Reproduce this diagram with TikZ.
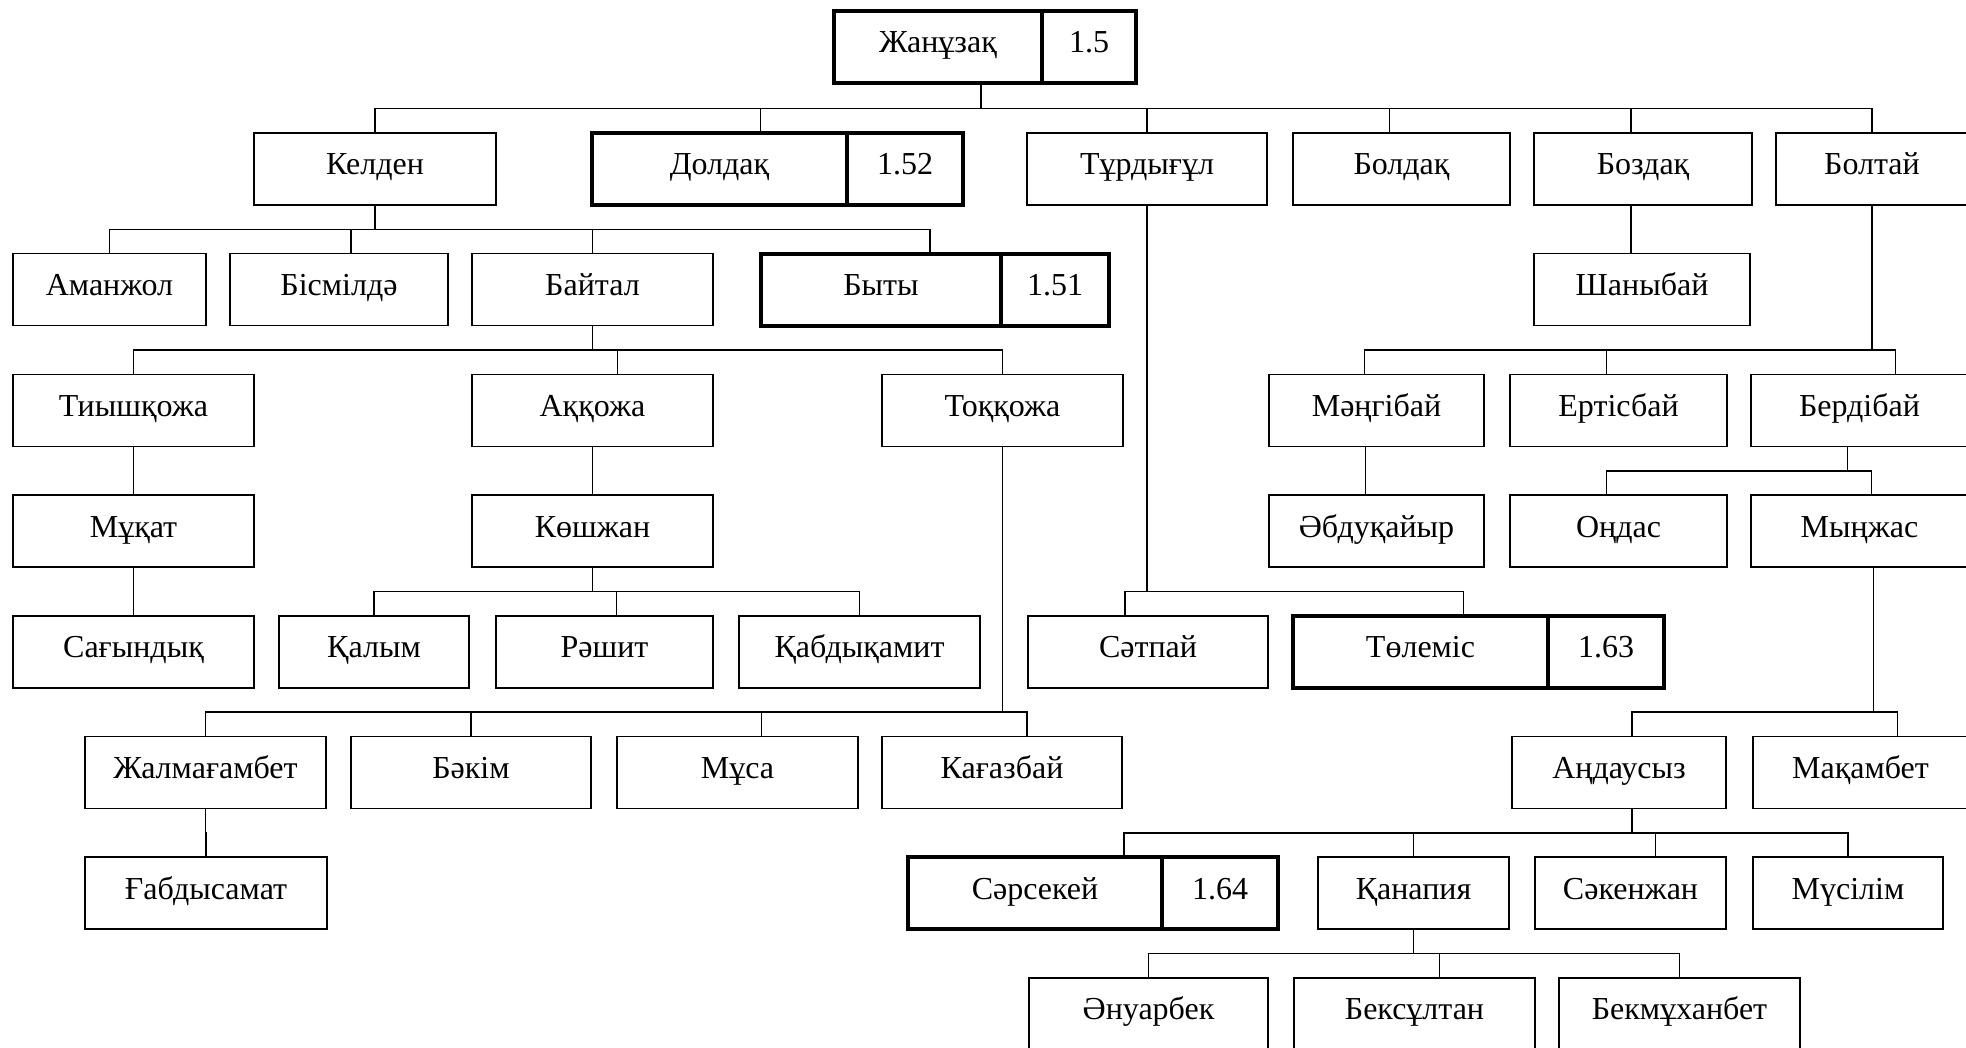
\documentclass[tikz,border=0pt]{standalone}
\usepackage{fontspec}
\setmainfont{Liberation Serif}
\usetikzlibrary{calc}
\tikzset{
  kin/.style={draw, line width=1.6pt, inner sep=0pt, outer sep=0pt, anchor=north west, minimum height=72pt,
              font=\fontsize{32}{38}\selectfont, text height=21pt, text depth=9pt},
  kin mark/.style={kin, line width=3.8pt},
  kin link/.style={line width=1.6pt},
}
\begin{document}
\begin{tikzpicture}[x=1pt, y=-1pt]
  \useasboundingbox (0,0) rectangle (1966,1048);
  \clip (0,0) rectangle (1966,1048);
  % plain boxes: name/left/right/row/text
  \foreach \nm/\xa/\xb/\r/\txt in {
      kelden/254/496/1/Келден, turdy/1027/1267/1/Тұрдығұл, boldaq/1293/1510/1/Болдақ,
      bozdaq/1534/1752/1/Боздақ, boltai/1776/1968/1/Болтай,
      amanzhol/13/206/2/Аманжол, bismil/230/448/2/Бісмілдә, baital/472/713/2/Байтал, shanybai/1534/1750/2/Шаныбай,
      tyysh/13/254/3/Тиышқожа, aqqozha/472/713/3/Аққожа, toqqozha/882/1123/3/Тоққожа,
      mengi/1269/1484/3/Мәңгібай, ertis/1510/1727/3/Ертісбай, berdi/1751/1968/3/Бердібай,
      muqat/13/254/4/Мұқат, koshzhan/472/713/4/Көшжан, abdu/1269/1484/4/Әбдуқайыр,
      ondas/1510/1727/4/Оңдас, mynzhas/1751/1968/4/Мыңжас,
      sagyn/13/254/5/Сағындық, qalym/279/469/5/Қалым, rashit/496/713/5/Рәшит, qabdy/739/980/5/Қабдықамит,
      satpai/1028/1268/5/Сәтпай,
      zhalma/85/326/6/Жалмағамбет, bakim/351/591/6/Бәкім, musa/617/858/6/Мұса, qagaz/882/1122/6/Кағазбай,
      andau/1512/1726/6/Аңдаусыз, maqam/1753/1968/6/Мақамбет,
      gabdy/85/327/7/Ғабдысамат, qanap/1318/1509/7/Қанапия, saken/1535/1726/7/Сәкенжан, musil/1753/1943/7/Мүсілім,
      anuar/1029/1268/8/Әнуарбек, beksul/1294/1535/8/Бексұлтан, bekmu/1559/1800/8/Бекмұханбет} {
     \pgfmathsetmacro{\ty}{133+(\r-1)*120.7}
     \node[kin, minimum width=\xb-\xa] (\nm) at (\xa,\ty) {\txt};
  }
  % marked boxes with their number: name/left/split/right/row/text/number
  \foreach \nm/\xa/\xm/\xb/\r/\txt/\val in {
      root/834/1042/1136/0/Жанұзақ/1.5, doldaq/592/847/963/1/Долдақ/1.52, byty/761/1001/1109/2/Быты/1.51,
      tolemis/1293/1548/1664/5/Төлеміс/1.63, sarsek/908/1162/1278/7/Сәрсекей/1.64} {
     \pgfmathsetmacro{\ty}{\r==0 ? 11 : 133+(\r-1)*120.7}
     \node[kin mark, minimum width=\xm-\xa] (\nm) at (\xa,\ty) {\txt};
     \node[kin mark, minimum width=\xb-\xm] (\nm-val) at (\xm,\ty) {\val};
  }
  % parent/offset/child/offset
  \foreach \up/\upx/\kid/\kidx in {
      root/43/kelden/0, root/43/doldaq/41, root/43/turdy/0, root/43/boldaq/-12, root/43/bozdaq/-12, root/43/boltai/0,
      kelden/0/amanzhol/0, kelden/0/bismil/12, kelden/0/baital/0, kelden/0/byty/49,
      bozdaq/-12/shanybai/-11,
      baital/0/tyysh/0, baital/0/aqqozha/25, baital/0/toqqozha/0,
      boltai/0/mengi/-12, boltai/0/ertis/-12, boltai/0/berdi/36,
      tyysh/0/muqat/0, aqqozha/0/koshzhan/0, mengi/-11/abdu/-11, berdi/-12/ondas/-12, berdi/-12/mynzhas/12,
      muqat/0/sagyn/0, koshzhan/0/qalym/0, koshzhan/0/rashit/12, koshzhan/0/qabdy/0,
      turdy/0/satpai/-23, turdy/0/tolemis/43,
      toqqozha/0/zhalma/0, toqqozha/0/bakim/0, toqqozha/0/musa/24, toqqozha/0/qagaz/25,
      mynzhas/14/andau/13, mynzhas/14/maqam/37,
      zhalma/0/gabdy/0, andau/13/sarsek/89, andau/13/qanap/0, andau/13/saken/25, andau/13/musil/0,
      qanap/0/anuar/0, qanap/0/beksul/25, qanap/0/bekmu/0} {
     \draw[kin link] ($(\up.south)+(\upx,0)$) |- ($(\kid.north)+(\kidx,-24.3)$) -- ++(0,24.3);
  }
\end{tikzpicture}
\end{document}
